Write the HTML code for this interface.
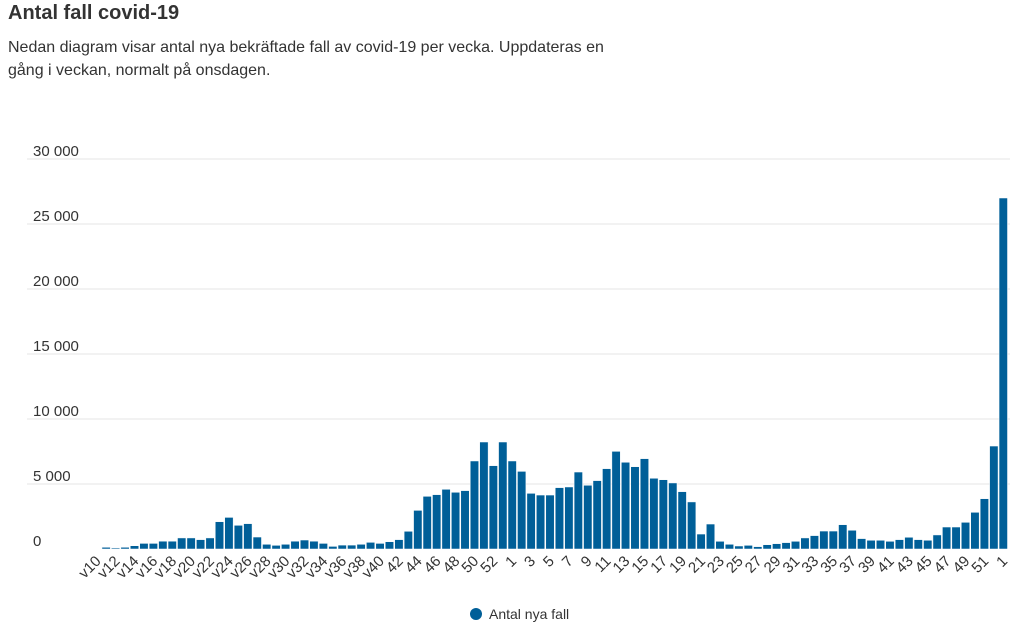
<!DOCTYPE html>
<html><head><meta charset="utf-8"><style>
body{margin:0;width:1024px;height:629px;background:#fff;font-family:"Liberation Sans",sans-serif;color:#333;overflow:hidden}
h1{position:absolute;left:8px;top:2px;margin:0;font-size:20px;font-weight:bold;color:#333}
p{position:absolute;left:8px;top:36px;margin:0;font-size:16px;line-height:23px;color:#333;width:612px}
svg{position:absolute;left:0;top:0}
</style></head><body>
<h1>Antal fall covid-19</h1>
<p>Nedan diagram visar antal nya bekräftade fall av covid-19 per vecka. Uppdateras en gång i veckan, normalt på onsdagen.</p>
<svg id="c" width="1024" height="629"></svg>
<script>
const weeks2020 = [10,11,12,13,14,15,16,17,18,19,20,21,22,23,24,25,26,27,28,29,30,31,32,33,34,35,36,37,38,39,40,41,42,43,44,45,46,47,48,49,50,51,52,53];
const cases2020 = [0,130,80,130,250,430,430,600,600,850,850,720,850,2100,2430,1820,1950,920,360,280,360,600,690,600,430,200,300,300,360,510,430,560,720,1360,2970,4050,4180,4590,4360,4490,6770,8230,6410,8230];
const cases2021 = [6770,5970,4280,4150,4150,4720,4770,5920,4900,5260,6180,7510,6670,6330,6950,5440,5330,5080,4410,3620,1150,1920,590,360,230,280,180,330,410,490,590,850,1030,1380,1380,1870,1440,800,670,670,590,720,900,720,670,1080,1690,1690,2050,2820,3870,7920];
const cases2022 = [27000];
const yTicks = [0,5000,10000,15000,20000,25000,30000];
const yTickLabels = ["0","5 000","10 000","15 000","20 000","25 000","30 000"];

const NS="http://www.w3.org/2000/svg";
const svg=document.getElementById('c');
const labels=[], values=[];
weeks2020.forEach((w,i)=>{labels.push(w<=40?('v'+w):String(w));values.push(cases2020[i]);});
cases2021.forEach((v,i)=>{labels.push(String(i+1));values.push(v);});
cases2022.forEach((v,i)=>{labels.push(String(i+1));values.push(v);});
const x0=92,x1=1008,yBase=549,yTop=159,yMax=30000;
const n=values.length, step=(x1-x0)/n;
const y=v=>yBase-(v/yMax)*(yBase-yTop);
const xc=i=>x0+step*(i+0.5);
function el(t,a){const e=document.createElementNS(NS,t);for(const k in a)e.setAttribute(k,a[k]);svg.appendChild(e);return e;}
yTicks.forEach((t,i)=>{
  if(t>0){const g=el('line',{x1:27,x2:1010,y1:y(t),y2:y(t),stroke:'#e6e6e6','stroke-width':1});
  
  }
  const tx=el('text',{x:33,y:y(t)-3,'font-size':15,fill:'#333'});
  tx.textContent=yTickLabels[i];
  
  
});
values.forEach((v,i)=>{
  const r=el('rect',{x:xc(i)-step/2+0.5,y:y(v),width:step-1,height:yBase-y(v),fill:'#005f98',stroke:'#ffffff','stroke-width':0.5});
  
  
  if(i%2===0){
    const t=el('text',{x:0,y:0,'font-size':15,fill:'#333','text-anchor':'end',transform:`translate(${xc(i)+5},${yBase+13}) rotate(-45)`});
    t.textContent=labels[i];
    
    
  }
});
const c=el('circle',{cx:476,cy:614,r:6,fill:'#005f98'});


const lt=el('text',{x:489,y:619,'font-size':14,fill:'#333'});
lt.textContent='Antal nya fall';


</script>
</body></html>
